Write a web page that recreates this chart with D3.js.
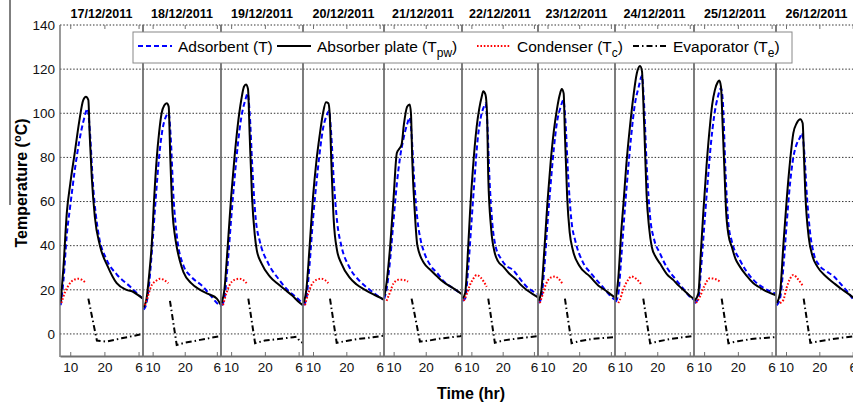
<html>
<head>
<style>
  body { margin: 0; background: white; font-family: "Liberation Sans", Arial, sans-serif; }
  .tick text { font-family: "Liberation Sans", Arial, sans-serif; }
</style>
<script src="https://cdn.jsdelivr.net/npm/d3@7"></script>
</head>
<body>
<svg id="chart"></svg>
<script>
// one panel per day, time in hours (7 = 7am, 30 = 6am next day)
let days = ["17/12/2011", "18/12/2011", "19/12/2011", "20/12/2011", "21/12/2011",
            "22/12/2011", "23/12/2011", "24/12/2011", "25/12/2011", "26/12/2011"]

// absorber plate (Tpw), [hour, degC]
let plate = [
  [[7.2,14],[8,30],[9,55],[10,68],[11.4,83],[12.6,96],[13.8,106],[14.6,107.5],[15.3,106],[15.7,90],[16.3,71],[17.2,53],[18.7,40],[21,30.5],[23.6,23],[26.5,20],[28.5,19],[30.4,17],[31.3,16]],
  [[7.2,12],[8.1,16],[9,28],[9.7,40],[10.5,62],[11.3,80],[12,91],[12.8,100],[13.6,103.5],[14.4,104.5],[15,103],[15.5,80],[16.2,55],[17,44],[17.5,39.5],[18.5,33],[19.6,28],[22,23],[24.8,20],[27.5,18],[30,16],[31.3,13]],
  [[7.2,14],[8,20],[9,40],[10,62],[11,80],[12,95],[13,106],[13.8,112],[14.4,113],[15,111],[15.5,90],[16.2,62],[17,45],[17.6,38],[19,32],[21.5,26],[24,22.5],[26,20],[28,17.5],[30.4,14],[31.3,13]],
  [[7.2,14],[8,20],[9,40],[10,62],[11,78],[12,90],[13,100],[13.9,105],[14.6,104.5],[15,100],[15.5,78],[16.2,52],[17.2,38],[18.5,32],[21,25.5],[23,22.5],[25.6,20],[28,18],[30.7,16],[31.3,15.5]],
  [[7.1,17],[7.6,21],[8.9,39.5],[10,62],[11,82],[11.8,84],[12.5,86],[13.2,95],[14.2,103],[15,104],[15.4,100],[15.8,79],[16.6,55],[17.4,40],[19.5,32],[21.5,29],[23.6,26],[25.5,23.5],[27.8,21.4],[30.9,18.4],[31.3,18]],
  [[7.2,16],[8,18.4],[9,40],[9.6,56],[10.5,75],[11.7,94],[12.5,102],[13.3,107.5],[13.8,110],[14.5,108.5],[15,100],[15.4,71],[16.3,48],[17.5,36.6],[18.5,33],[20.2,30.5],[22,27.5],[24.4,24.5],[26,22],[27.6,20],[30.8,17],[31.3,16.5]],
  [[7.2,15],[8,19],[9,38],[10,60],[11,78],[12,92],[13,102],[13.8,108],[14.5,111],[15.1,109],[15.5,90],[16.2,62],[17,46],[18,38],[20,31],[23.4,26],[26,22],[28,20],[30.8,17],[31.3,16.5]],
  [[7.2,15.4],[8,25],[9,48],[9.6,59],[10.5,77],[11.6,94],[12.6,107],[13.7,118],[14.7,121.4],[15.3,119],[15.6,110],[16.2,85],[16.7,63.7],[17.5,48],[18.3,39.5],[19.5,35],[20.8,32],[23,27],[24.9,24.5],[26.5,22],[28,20],[30.6,16.6],[31.3,16]],
  [[7.2,15],[8.3,18.4],[9,36],[9.8,56],[10.7,76],[11.7,94],[12.4,104],[13.2,110.6],[14,114],[14.5,114.8],[15,112],[15.5,94],[16,75],[16.5,56],[17.2,45],[18.2,39.5],[19.3,34],[20.6,30.5],[22.5,26.5],[24.6,23],[26,21.5],[27.6,20],[31.3,17.5]],
  [[7.2,14],[8.2,18.4],[9.2,40],[10.2,60.7],[11.2,78],[12.2,91],[13.2,95.5],[14.3,97.3],[15,95.5],[15.4,80],[15.8,63.7],[16.8,44],[18,35],[19.4,30.5],[22,26],[24.4,23],[26.5,20.5],[28.5,18.4],[30.4,16.2],[31.3,15]]
]

// adsorbent (T)
let adsorbent = [
  [[7.2,13],[8,24],[9,45],[10,58],[11.4,75],[12.6,87],[13.8,96],[15.1,102],[15.6,95],[16.7,67],[18.2,46],[20.7,33.5],[23.6,27],[27.5,21.5],[30.9,16.5],[31.3,16]],
  [[7.2,11],[8.1,14],[9,24],[10,42],[11,62],[12,80],[13,92],[14.3,99],[15,100],[15.6,90],[16.5,62],[17.5,45],[19.6,31],[22,26],[25.7,21.4],[28,17.5],[30.4,13.5],[31.3,12.5]],
  [[7.2,13],[8,16],[9,32],[10,52],[11,70],[12,86],[13,98],[14.2,106],[14.9,109],[15.5,100],[16.3,75],[17.3,52],[18.5,42],[21,32],[24,25],[27,19.5],[29,17],[30.4,15],[31.3,13]],
  [[7.2,13],[8,16],[9,32],[10,52],[11,68],[12,82],[13,93],[14.1,99],[14.8,101],[15.4,92],[16.3,68],[17.3,50],[18.5,40],[21,30],[24,24],[27,20],[30.7,16],[31.3,15.5]],
  [[7.1,16],[8,22],[9,35],[10,52],[11,68],[12,80],[13,88],[14.2,95],[15,98],[15.5,92],[16.4,70],[17.4,52],[18.5,42],[19.5,37],[21.5,31],[23.6,27.5],[25.5,24],[27.8,21.4],[30.9,18.4],[31.3,18]],
  [[7.2,15],[8,16],[9,30],[10,50],[11,70],[12,88],[13,98],[14,103],[14.5,104.5],[15,98],[15.8,70],[16.7,50],[17.7,40],[19.5,34],[21,31],[23.3,29],[25,26],[27.6,21.5],[30.8,18.4],[31.3,18]],
  [[7.2,14],[8,16],[9,30],[10,50],[11,68],[12,84],[13,96],[14.2,103],[15,106],[15.6,98],[16.5,72],[17.5,52],[18.8,42],[21,33],[24,27],[27,22],[30.8,16],[31.3,15.5]],
  [[7.2,14.5],[8,18],[9,36],[10,56],[11,74],[12,90],[13,103],[14.3,112],[15.3,117],[15.8,108],[16.8,75],[17.8,53],[19,43],[20.8,36.6],[23,30],[25.8,24.5],[28,20.5],[30.7,16],[31.3,15.5]],
  [[7.2,14],[8.3,16],[9,28],[10,48],[11,68],[12,86],[13,99],[14,107],[15,111.3],[15.6,104],[16.3,75],[17.2,50],[18.2,42],[20.6,33.5],[22.5,28.5],[24.6,24.5],[27.5,21],[31.3,18.2]],
  [[7.2,13],[8.2,16],[9.2,30],[10.2,50],[11.2,68],[12.2,80],[13.2,86],[14.2,89],[14.8,91],[15.4,84],[16.3,62],[17.3,45],[18.3,36.6],[20,31],[22,28.5],[24.4,26],[26.5,22.5],[28.5,19],[30.4,15.4],[31.3,14.5]]
]

// condenser (Tc)
let condenser = [
  [[7.4,14],[8.5,19],[9.5,22],[11,24.5],[12.5,25],[14.3,23.5]],
  [[7.6,13],[8.5,17],[9.5,21.5],[11,24],[12.3,25],[13.5,24.5],[14.9,23]],
  [[7.6,13],[8.5,18],[9.5,22],[11,24.5],[12.5,25],[13.5,24.5],[14.6,23]],
  [[7.6,13],[8.5,18],[9.5,22],[11,24.5],[12.5,25],[13.5,24.5],[14.6,23]],
  [[7.8,15],[8.9,19],[10,23],[11.5,24.5],[13,24.5],[14.5,23.7]],
  [[7.6,15],[8.5,18],[9.5,22],[10.6,25],[11.7,26.7],[13,25.5],[14.9,21.4]],
  [[7.6,14],[8.5,18],[9.5,22.5],[11,25.5],[12.4,26],[13.5,25],[14.8,22.5]],
  [[8,14],[8.5,15.4],[9.5,20],[10.8,24],[12.1,26],[13.5,25],[15.2,22.2]],
  [[7.6,14],[8.8,17],[10,21.5],[11.7,25.2],[13,25],[14.7,23.7]],
  [[8.2,14],[9.2,15.4],[10.2,21],[11.2,25],[12.2,26.7],[13.5,25],[15.2,21.4]]
]

// evaporator (Te)
let evaporator = [
  [[15.3,16],[17.8,-3],[20.5,-3.5],[25,-2],[30.4,-0.3],[31.3,0]],
  [[15.4,15],[17.5,-5],[20,-4],[24.8,-2.7],[28,-1.8],[31.3,-1]],
  [[15.1,16],[17.1,-4.2],[20,-3],[24,-2.3],[28.4,-1.5],[29.5,-1.3],[30.4,-3.5],[31.3,-4]],
  [[15.1,16],[17.1,-4],[20,-3.2],[24,-2.2],[28,-1.5],[31.3,-0.8]],
  [[15.6,16],[18.2,-3.5],[21,-3],[25,-2],[30.7,-1],[31.3,-0.8]],
  [[15.4,16],[17.5,-4],[20,-3],[24,-2.2],[28,-1.5],[31.3,-1]],
  [[15.5,16],[17.6,-4.2],[20,-3.3],[24,-2.3],[28,-1.8],[30.8,-1.5],[31.3,-1.4]],
  [[15.7,16],[17.8,-4.2],[20,-3.5],[24,-2.3],[28,-1.5],[30.6,-1],[31.3,-1]],
  [[15.2,16],[17.2,-4.2],[20,-3.3],[24,-2.3],[28,-1.8],[30.5,-1.5],[31.3,-1.4]],
  [[15.3,16],[17.3,-4],[20,-3.3],[24,-2.3],[28,-1.5],[30.5,-1],[31.3,-0.9]]
]

let yTicks = [0, 20, 40, 60, 80, 100, 120, 140]
let xTicks = [10, 20, 30]
let xTickLabels = ["10", "20", "6"]

let width = 853, height = 407
let edges = [60, 143, 221, 303, 384, 462, 538, 615, 694, 776, 857]
let font = '"Liberation Sans", Arial, sans-serif'
let gray = "#707070"

let svg = d3.select("#chart").attr("width", width).attr("height", height)
let y = d3.scaleLinear().domain([-10, 140]).range([356, 25])

// stray rule on the far left of the original figure
svg.append("line").attr("x1", 10).attr("x2", 10).attr("y1", 0).attr("y2", 205)
   .attr("stroke", "black").attr("stroke-width", 1)

let styles = [
  {data: adsorbent, color: "#0000ff", dash: "5,3", curve: d3.curveMonotoneX},
  {data: plate, color: "black", dash: null, curve: d3.curveMonotoneX},
  {data: condenser, color: "#ff0000", dash: "1.6,1.8", curve: d3.curveMonotoneX},
  {data: evaporator, color: "black", dash: "6,3,1.5,3", curve: d3.curveLinear}
]

days.forEach((day, i) => {
  let x0 = edges[i], x1 = edges[i + 1]
  let x = d3.scaleLinear().domain([7, 31.3]).range([x0, x1])
  let g = svg.append("g")

  g.append("clipPath").attr("id", "clip" + i)
    .append("rect").attr("x", x0).attr("y", y(140)).attr("width", x1 - x0).attr("height", y(-10) - y(140))

  // dotted grid
  g.selectAll("line.grid").data(yTicks).enter().append("line")
    .attr("class", "grid")
    .attr("x1", x0).attr("x2", x1)
    .attr("y1", d => y(d)).attr("y2", d => y(d))
    .attr("stroke", "#333").attr("stroke-width", 1).attr("stroke-dasharray", "1.5,1.8")

  // series
  let plot = g.append("g").attr("clip-path", "url(#clip" + i + ")")
  styles.forEach(s => {
    let line = d3.line().x(d => x(d[0])).y(d => y(d[1])).curve(s.curve)
    plot.append("path").attr("d", line(s.data[i]))
      .attr("fill", "none").attr("stroke", s.color).attr("stroke-width", 2)
      .attr("stroke-dasharray", s.dash)
  })

  // bottom axis
  let bottom = g.append("g").attr("transform", `translate(0,${y(-10)})`)
    .call(d3.axisBottom(x).tickValues(xTicks).tickFormat((d, k) => xTickLabels[k])
      .tickSizeInner(-4).tickSizeOuter(0).tickPadding(6))
  bottom.select(".domain").attr("stroke", gray).attr("stroke-width", 2)
  bottom.selectAll(".tick line").attr("stroke", gray)
  bottom.selectAll(".tick text").attr("font-size", "13.5px").attr("font-family", font).attr("fill", "#111")

  // top ticks
  let top = g.append("g").attr("transform", `translate(0,${y(140)})`)
    .call(d3.axisTop(x).tickValues(xTicks).tickFormat("").tickSizeInner(-4).tickSizeOuter(0))
  top.select(".domain").remove()
  top.selectAll(".tick line").attr("stroke", gray)

  // panel sides
  g.selectAll("line.side").data([x0, x1]).enter().append("line")
    .attr("class", "side")
    .attr("x1", d => d).attr("x2", d => d)
    .attr("y1", y(140)).attr("y2", y(-10) + 1)
    .attr("stroke", gray).attr("stroke-width", 1.4)

  // date title
  svg.append("text").attr("x", (x0 + x1) / 2).attr("y", 18)
    .attr("text-anchor", "middle").attr("font-family", font)
    .attr("font-weight", "bold").attr("font-size", "12.5px")
    .text(day)

  if (i == 0) {
    let left = g.append("g").attr("transform", `translate(${x0},0)`)
      .call(d3.axisLeft(y).tickValues(yTicks).tickSize(0).tickPadding(5))
    left.select(".domain").remove()
    left.selectAll(".tick text").attr("font-size", "13.5px").attr("font-family", font).attr("fill", "#111")
  }
})

// axis titles
svg.append("text").attr("x", 471).attr("y", 399)
  .attr("text-anchor", "middle").attr("font-family", font)
  .attr("font-weight", "bold").attr("font-size", "16px")
  .text("Time (hr)")

let ylab = svg.append("text")
  .attr("transform", "translate(27,183) rotate(-90)")
  .attr("text-anchor", "middle").attr("font-family", font)
  .attr("font-weight", "bold").attr("font-size", "16px")
ylab.append("tspan").text("Temperature (")
ylab.append("tspan").attr("dy", -6).attr("font-size", "11px").text("o")
ylab.append("tspan").attr("dy", 6).text("C)")

// legend
let legend = svg.append("g")
legend.append("rect").attr("x", 133).attr("y", 32).attr("width", 659).attr("height", 31)
  .attr("fill", "white").attr("stroke", "#888").attr("stroke-width", 1)

let legendItems = [
  {x: 138, text: "Adsorbent (T", sub: "", s: styles[0]},
  {x: 277, text: "Absorber plate (T", sub: "pw", s: styles[1]},
  {x: 477, text: "Condenser (T", sub: "c", s: styles[2]},
  {x: 633, text: "Evaporator (T", sub: "e", s: styles[3]}
]
legendItems.forEach(d => {
  legend.append("line").attr("x1", d.x).attr("x2", d.x + 34).attr("y1", 46).attr("y2", 46)
    .attr("stroke", d.s.color).attr("stroke-width", 2).attr("stroke-dasharray", d.s.dash)
  let t = legend.append("text").attr("x", d.x + 40).attr("y", 52)
    .attr("font-family", font).attr("font-size", "15.5px")
  t.append("tspan").text(d.text)
  if (d.sub) {
    t.append("tspan").attr("dy", 5).attr("font-size", "12px").text(d.sub)
    t.append("tspan").attr("dy", -5).text(")")
  } else {
    t.append("tspan").text(")")
  }
})
</script>
</body>
</html>
